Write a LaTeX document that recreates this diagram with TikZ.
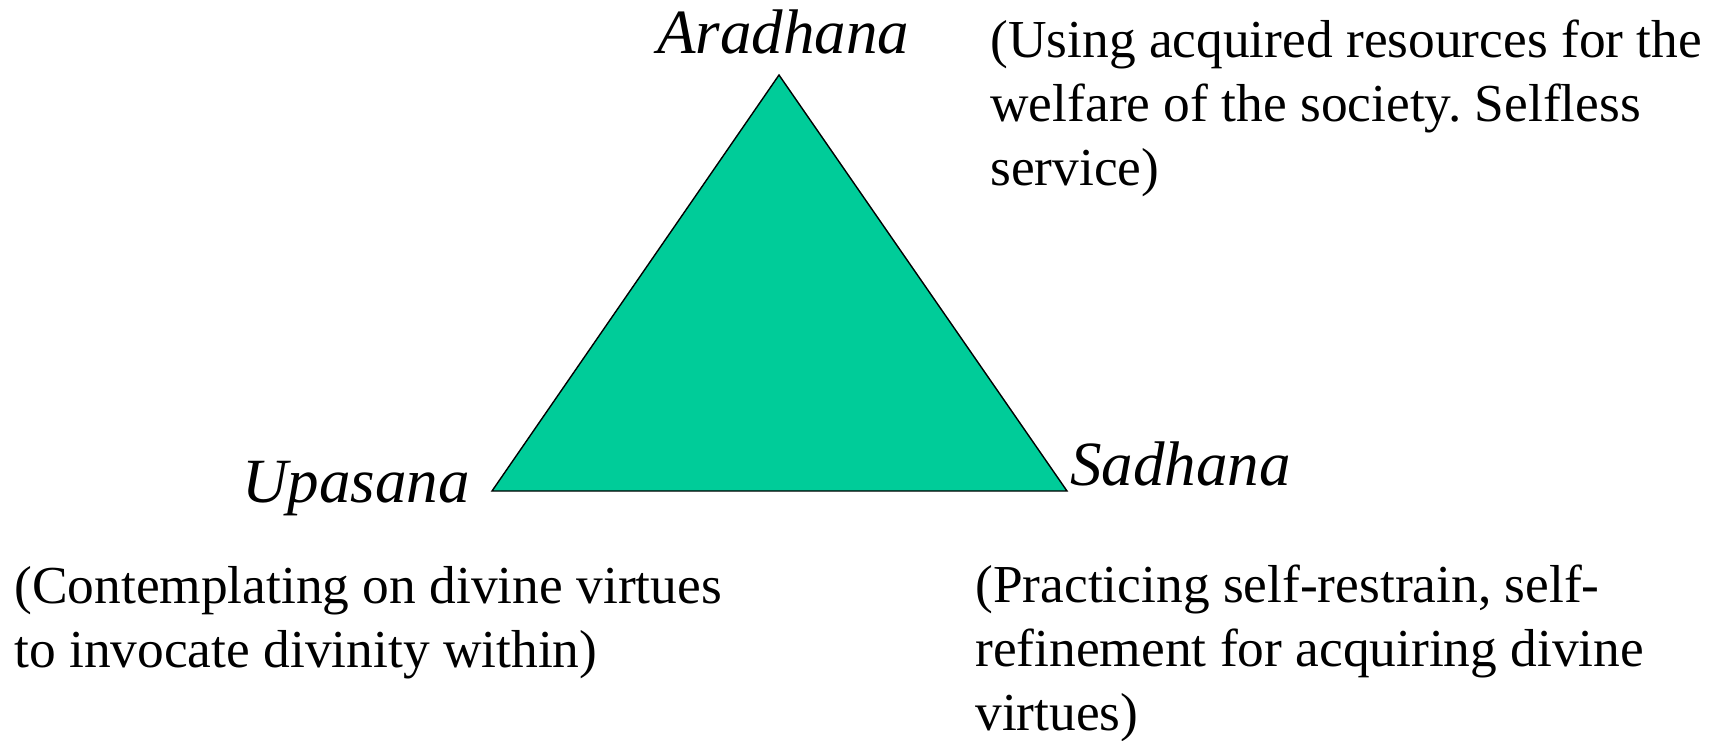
\documentclass[tikz,border=0pt]{standalone}
\usepackage{fontspec}
\setmainfont{Liberation Serif}
\frenchspacing
\definecolor{trigreen}{HTML}{00CC99}
\begin{document}
\begin{tikzpicture}[x=0.5pt,y=-0.5pt,
  lbl/.style={anchor=base west,inner sep=0pt,font=\fontsize{31.5}{38}\selectfont\itshape},
  desc/.style={anchor=base west,inner sep=0pt,align=left,font=\fontsize{26.7}{32}\selectfont}]
\useasboundingbox (0,0) rectangle (1725,740);
\coordinate (top) at (779,75);
\coordinate (bl) at (492,491);
\coordinate (br) at (1067,491);
\draw[fill=trigreen,line width=0.7pt,line join=miter] (top) -- (bl) -- (br) -- cycle;
\node[lbl] (ara) at (657,53) {Aradhana};
\node[lbl] (upa) at (242,502) {Upasana};
\node[lbl] (sad) at (1070,485) {Sadhana};
% base anchor of a multi-line node lies on its last line
\node[desc] (araD) at (990,185) {(Using acquired resources for the\\welfare of the society. Selfless\\service)};
\node[desc] (upaD) at (14,667) {(Contemplating on divine virtues\\to invocate divinity within)};
\node[desc] (sadD) at (975,730) {(Practicing self-restrain, self-\\refinement for acquiring divine\\virtues)};
\end{tikzpicture}
\end{document}
